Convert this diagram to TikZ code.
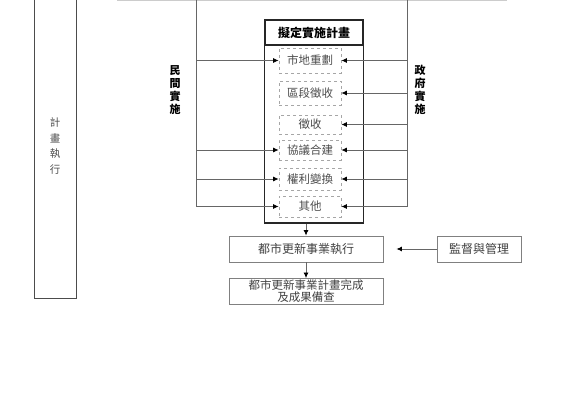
\documentclass[tikz,border=0pt]{standalone}
\usepackage{fontspec}
\setmainfont{Noto Sans CJK TC}
\usetikzlibrary{positioning,calc,fit,arrows.meta}

\begin{document}
\begin{tikzpicture}[x=1pt,y=-1pt,
  every node/.style={font=\fontsize{11.5}{13}\selectfont},
  line/.style={draw=black!60, line width=0.8pt},
  arr/.style={line, -{Latex[length=5.5pt,width=5pt,color=black]}},
  opt/.style={draw=black!35, dashed, line width=0.7pt, minimum width=62pt, inner sep=0pt, text=black!70},
  stepbox/.style={draw=black!50, line width=0.9pt, minimum width=154pt, minimum height=26pt, inner sep=0pt, text=black!75, align=center, font=\fontsize{12}{13}\selectfont},
  vlabel/.style={align=center, font=\bfseries\fontsize{11}{13}\selectfont}]

\useasboundingbox (0,0) rectangle (580,406);
\clip (0,0) rectangle (580,406);

% left column
\node[draw=black!70, line width=1pt, minimum width=42pt, minimum height=310pt, anchor=south west, inner sep=0pt] (exe) at (34,299) {};
\node[align=center, text=black!70, font=\fontsize{10.5}{15.5}\selectfont] (exelabel) at (55,146) {計\\畫\\執\\行};

% frame lines
\coordinate (tl) at (117,0.6);
\coordinate (tr) at (507,0.6);
\coordinate (ltop) at (196,0);
\coordinate (rtop) at (407,0);
\draw[draw=black!20, line width=0.8pt] (tl) -- (tr);

% plan box
\node[draw=black!85, line width=1.2pt, minimum width=98pt, minimum height=25pt, inner sep=0pt, font=\bfseries\fontsize{12}{13}\selectfont] (title) at (314,32.5) {擬定實施計畫};
\coordinate (planbot) at (314,223);
\node[draw=black!85, line width=1.2pt, fit=(title)(planbot), inner sep=0pt] (plan) {};

\node[opt, minimum height=25pt] (m1) at (310,60.5) {市地重劃};
\node[opt, minimum height=24pt] (m2) at (310,93) {區段徵收};
\node[opt, minimum height=19pt] (m3) at (310,124.5) {徵收};
\node[opt, minimum height=20pt] (m4) at (310,150) {協議合建};
\node[opt, minimum height=22pt] (m5) at (310,179) {權利變換};
\node[opt, minimum height=21pt] (m6) at (310,206.5) {其他};

% private / public
\draw[arr] (ltop) |- (m6.west);
\foreach \i in {1,4,5}
  \draw[arr] (ltop |- m\i) -- (m\i.west);
\draw[arr] (rtop) |- (m6.east);
\foreach \i in {1,...,5}
  \draw[arr] (rtop |- m\i) -- (m\i.east);

\node[vlabel] (private) at (175,90) {民\\間\\實\\施};
\node[vlabel] (public) at (420,90) {政\\府\\實\\施};

% execution
\node[stepbox] (run) at (306,249) {都市更新事業執行};
\node[stepbox, font=\fontsize{11.5}{12}\selectfont] (done) at (306,291.5) {都市更新事業計畫完成\\及成果備查};
\node[stepbox, minimum width=84pt] (audit) at (479,249) {監督與管理};

\draw[arr] (plan.south -| run.north) -- (run.north);
\draw[arr] (run) -- (done);
\draw[arr, shorten >=13pt] (audit) -- (run);
\end{tikzpicture}
\end{document}
